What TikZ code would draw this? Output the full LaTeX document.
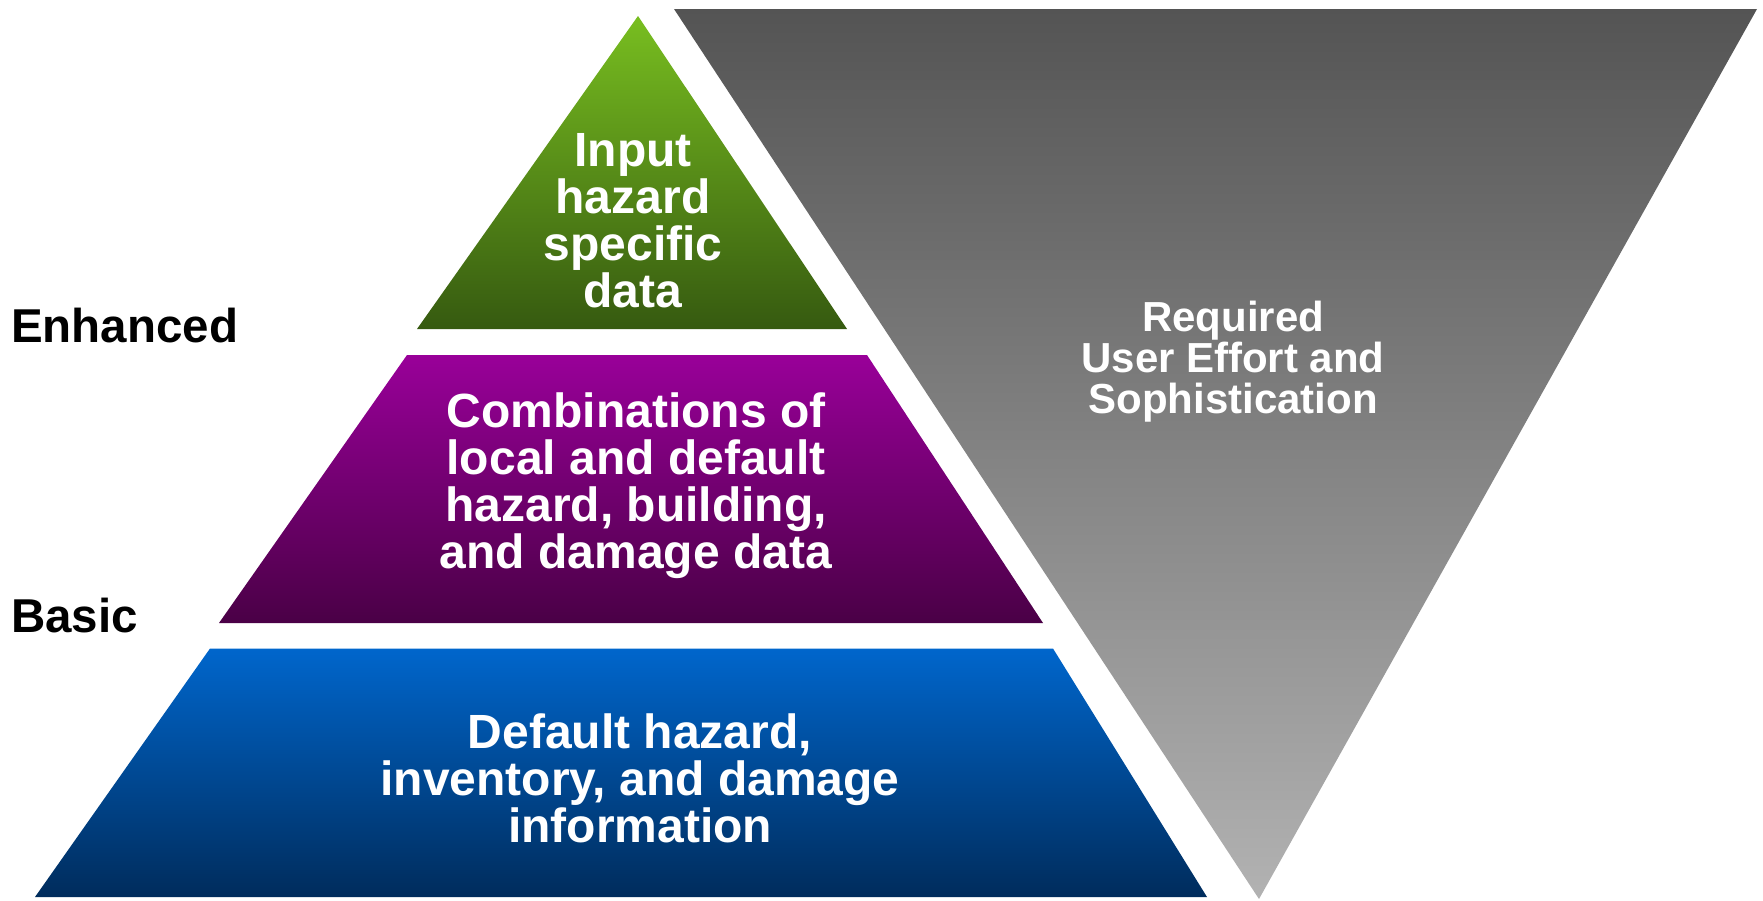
\documentclass[tikz,border=0pt]{standalone}
\usepackage{fontspec}
\setmainfont{Liberation Sans}
\definecolor{gtop}{HTML}{78BE20}
\definecolor{gbot}{HTML}{365A10}
\definecolor{ptop}{HTML}{990099}
\definecolor{pbot}{HTML}{4A0046}
\definecolor{btop}{HTML}{0066CC}
\definecolor{bbot}{HTML}{002C5C}
\definecolor{ktop}{HTML}{545454}
\definecolor{kmid}{HTML}{868686}
\definecolor{kbot}{HTML}{B2B2B2}
\tikzset{
  tiertext/.style={text=white, align=center, inner sep=0pt,
    font=\fontsize{48}{47}\bfseries\selectfont},
  efforttext/.style={text=white, align=center, inner sep=0pt,
    font=\fontsize{42}{41}\bfseries\selectfont},
  sidelabel/.style={text=black, anchor=west, inner sep=0pt,
    font=\fontsize{47.5}{50}\bfseries\selectfont},
}
\begin{document}
\begin{tikzpicture}[x=1pt,y=-1pt]
\useasboundingbox (0,0) rectangle (1763,900);
% inverted gray triangle
\shade[top color=ktop, middle color=kmid, bottom color=kbot]
  (674,9) -- (1757,9) -- (1259,899) -- cycle;
% green top
\shade[top color=gtop, bottom color=gbot]
  (638,16) -- (847,329) -- (417,329) -- cycle;
% purple middle
\shade[top color=ptop, bottom color=pbot]
  (407,355) -- (867,355) -- (1043,623) -- (219,623) -- cycle;
% blue bottom
\shade[top color=btop, bottom color=bbot]
  (210,648.5) -- (1053,648.5) -- (1207,897) -- (35,897) -- cycle;
% texts
\node[tiertext] (top) at (633,221) {Input\\hazard\\specific\\data};
\node[tiertext] (mid) at (636,486) {Combinations of\\local and default\\hazard, building,\\and damage data};
\node[tiertext] (bot) at (640,778) {Default hazard,\\inventory, and damage\\information};
\node[efforttext] (effort) at (1233,361.5) {Required\\User Effort and\\Sophistication};
\node[sidelabel] (enh) at (11,326) {Enhanced};
\node[sidelabel] (bas) at (11,616) {Basic};
\end{tikzpicture}
\end{document}
